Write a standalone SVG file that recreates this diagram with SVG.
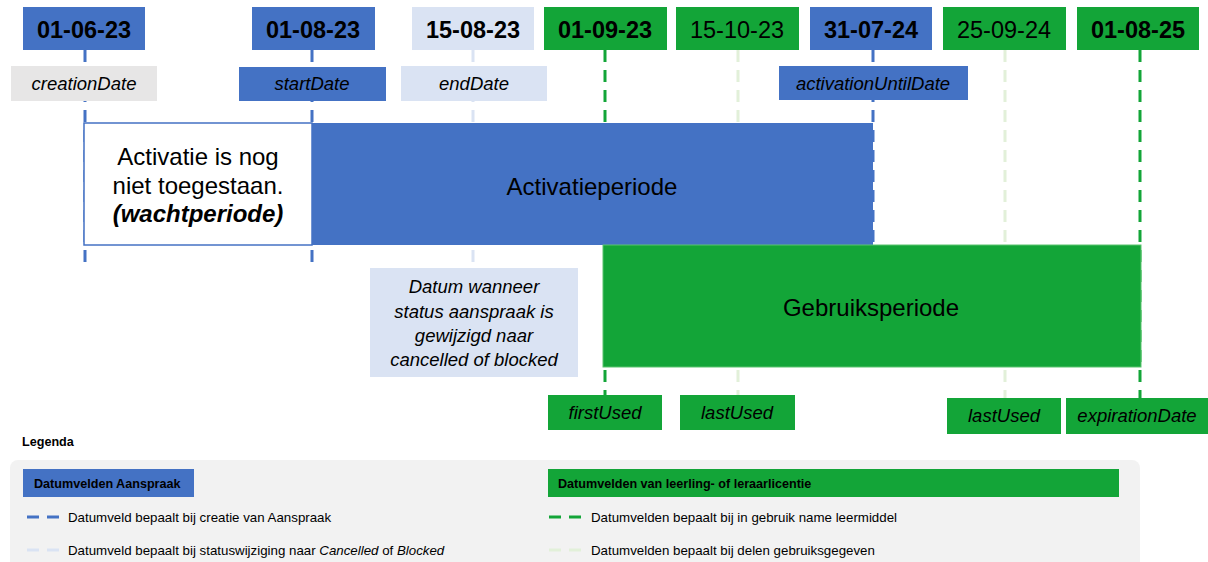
<svg xmlns="http://www.w3.org/2000/svg" width="1208" height="562" viewBox="0 0 1208 562">
<style>
text{font-family:"Liberation Sans",Arial,sans-serif;fill:#000}
.date{font-size:23.5px;text-anchor:middle}
.b{font-weight:bold}
.lbl{font-size:18.5px;font-style:italic;text-anchor:middle}
.big{font-size:24px;text-anchor:middle}
.leg{font-size:13.3px}
.legh{font-size:12.6px;font-weight:bold}
.blue{fill:#4472C4}
.lblue{fill:#DAE3F3}
.green{fill:#13A538}
.gray{fill:#E7E6E6}
.ln{fill:none;stroke-width:3;stroke-dasharray:12 8}
.lb{stroke:#4472C4}
.llb{stroke:#DAE3F3}
.lg{stroke:#13A538}
.llg{stroke:#E2F0D9}
</style>
<rect width="1208" height="562" fill="#fff"/>
<g id="connectors">
<path class="ln lb" d="M85 50V266"/>
<path class="ln lb" d="M312 50V268"/>
<path class="ln llb" d="M473 50V268"/>
<path class="ln lg" d="M605 50V395"/>
<path class="ln llg" d="M738 50V395"/>
<path class="ln lb" d="M873 50V245"/>
<path class="ln llg" d="M1005 50V398"/>
<path class="ln lg" d="M1140 50V398"/>
</g>
<g id="date-010623"><rect class="blue" x="23" y="7" width="122" height="43"/><text class="date b" x="84" y="38">01-06-23</text></g>
<g id="date-010823"><rect class="blue" x="252" y="7" width="123" height="43"/><text class="date b" x="313" y="38">01-08-23</text></g>
<g id="date-150823"><rect class="lblue" x="412" y="7" width="122" height="43"/><text class="date b" x="473" y="38">15-08-23</text></g>
<g id="date-010923"><rect class="green" x="544" y="7" width="123" height="43"/><text class="date b" x="605" y="38">01-09-23</text></g>
<g id="date-151023"><rect class="green" x="676" y="7" width="123" height="43"/><text class="date" x="737" y="38">15-10-23</text></g>
<g id="date-310724"><rect class="blue" x="810" y="7" width="122" height="43"/><text class="date b" x="871" y="38">31-07-24</text></g>
<g id="date-250924"><rect class="green" x="943" y="7" width="123" height="43"/><text class="date" x="1004" y="38">25-09-24</text></g>
<g id="date-010825"><rect class="green" x="1077" y="7" width="122" height="43"/><text class="date b" x="1138" y="38">01-08-25</text></g>

<g id="creationDate"><rect class="gray" x="11" y="66" width="146" height="35"/><text class="lbl" x="84" y="90">creationDate</text></g>
<g id="startDate"><rect class="blue" x="239" y="67" width="147" height="34"/><text class="lbl" x="312" y="90">startDate</text></g>
<g id="endDate"><rect class="lblue" x="401" y="66" width="146" height="35"/><text class="lbl" x="474" y="90">endDate</text></g>
<g id="activationUntilDate"><rect class="blue" x="779" y="66" width="189" height="34"/><text class="lbl" x="873" y="90">activationUntilDate</text></g>

<g id="wachtperiode"><rect x="84" y="123" width="228" height="122" fill="#fff" stroke="#4472C4" stroke-width="1.5"/>
<text class="big" x="198" y="165" font-size="23.5">Activatie is nog</text>
<text class="big" x="198" y="194" font-size="23.5">niet toegestaan.</text>
<text class="big b" x="198" y="222" font-style="italic" font-size="21.5">(wachtperiode)</text></g>
<g id="activatieperiode"><rect class="blue" x="312" y="123" width="561" height="122"/><text class="big" x="592" y="195">Activatieperiode</text></g>
<g id="gebruiksperiode"><rect class="green" x="603" y="245" width="538" height="122" stroke="#5BC36F" stroke-width="1"/><text class="big" x="871" y="316">Gebruiksperiode</text></g>
<g id="statuswijziging"><rect class="lblue" x="370" y="268" width="208" height="109"/>
<text class="lbl" x="474" y="293">Datum wanneer</text>
<text class="lbl" x="474" y="318">status aanspraak is</text>
<text class="lbl" x="474" y="342">gewijzigd naar</text>
<text class="lbl" x="474" y="366">cancelled of blocked</text></g>

<g id="firstUsed"><rect class="green" x="548" y="395" width="114" height="35"/><text class="lbl" x="605" y="419">firstUsed</text></g>
<g id="lastUsed1"><rect class="green" x="680" y="395" width="115" height="35"/><text class="lbl" x="737" y="419">lastUsed</text></g>
<g id="lastUsed2"><rect class="green" x="947" y="398" width="114" height="36"/><text class="lbl" x="1004" y="422">lastUsed</text></g>
<g id="expirationDate"><rect class="green" x="1066" y="398" width="142" height="36"/><text class="lbl" x="1137" y="422">expirationDate</text></g>

<g id="legenda">
<text class="legh" x="22" y="446" font-size="12">Legenda</text>
<rect x="10" y="460" width="1130" height="120" rx="8" fill="#F2F2F2"/>
<rect class="blue" x="23" y="469" width="171" height="28"/>
<text class="legh" x="34" y="488">Datumvelden Aanspraak</text>
<path class="ln lb" d="M27 517H63" stroke-dasharray="11 12"/>
<text class="leg" x="68" y="522">Datumveld bepaalt bij creatie van Aanspraak</text>
<path class="ln llb" d="M27 550H63" stroke-dasharray="11 12"/>
<text class="leg" x="68" y="555">Datumveld bepaalt bij statuswijziging naar <tspan font-style="italic">Cancelled</tspan> of <tspan font-style="italic">Blocked</tspan></text>
<rect class="green" x="548" y="469" width="571" height="28"/>
<text class="legh" x="558" y="488">Datumvelden van leerling- of leraarlicentie</text>
<path class="ln lg" d="M549 517H585" stroke-dasharray="13 11"/>
<text class="leg" x="591" y="522">Datumvelden bepaalt bij in gebruik name leermiddel</text>
<path class="ln llg" d="M549 550H585" stroke-dasharray="13 11"/>
<text class="leg" x="591" y="555">Datumvelden bepaalt bij delen gebruiksgegeven</text>
</g>
</svg>
